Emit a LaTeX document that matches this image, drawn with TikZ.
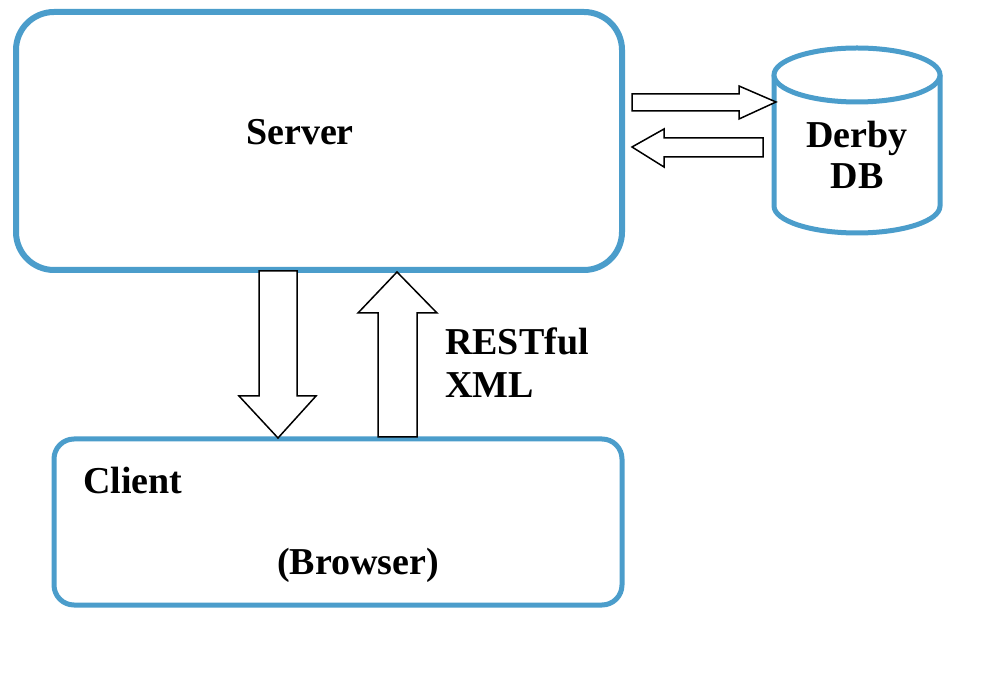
\documentclass[tikz,border=0pt]{standalone}
\usepackage{fontspec}
\setmainfont{Liberation Serif}
\definecolor{boxblue}{RGB}{75,157,203}
\begin{document}
\begin{tikzpicture}[x=1pt,y=1pt,
  lbl/.style={font=\fontsize{38}{45}\selectfont\bfseries, inner sep=0pt, anchor=base},
  blockarrow/.style={draw=black, line width=1.5pt, fill=white, line join=miter},
  bluebox/.style={draw=boxblue, fill=white}]
\useasboundingbox (0,0) rectangle (990,680);
% Server
\draw[bluebox, line width=6pt, rounded corners=38pt] (16,410) rectangle (622,668);
\node[lbl] (server) at (300,535) {Server};
% Client
\draw[bluebox, line width=5pt, rounded corners=20pt] (54,75) rectangle (622,241);
\node[lbl, anchor=base west] (client) at (83,186) {Client};
\node[lbl] (browser) at (358,105) {(Browser)};
% Derby DB cylinder
\draw[bluebox, line width=5pt] (774,605) -- (774,474) arc[start angle=180, end angle=360, x radius=83, y radius=27] -- (940,605);
\draw[bluebox, line width=5pt] (857,605) ellipse[x radius=83, y radius=27];
\node[lbl] (derby) at (857,532) {Derby};
\node[lbl] (db) at (857,491) {DB};
% RESTful XML
\node[lbl, anchor=base west] (rest) at (445,325) {RESTful};
\node[lbl, anchor=base west] (xml) at (445,282) {XML};
% block arrows
\draw[blockarrow] (259,409) -- (297,409) -- (297,284) -- (316,284) -- (278,242) -- (239,284) -- (259,284) -- cycle;
\draw[blockarrow] (378,243) -- (417,243) -- (417,367) -- (437,367) -- (397,408) -- (358,367) -- (378,367) -- cycle;
\draw[blockarrow] (632,586) -- (739,586) -- (739,594) -- (776,578) -- (739,561) -- (739,569) -- (632,569) -- cycle;
\draw[blockarrow] (763,542) -- (664,542) -- (664,551) -- (632,533) -- (664,513) -- (664,523) -- (763,523) -- cycle;
\end{tikzpicture}
\end{document}
